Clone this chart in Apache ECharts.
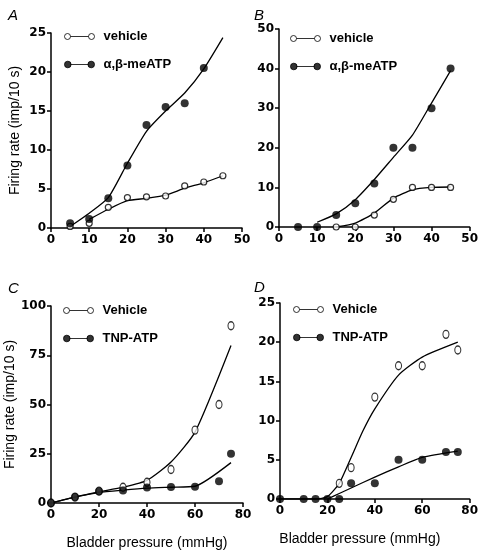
<!DOCTYPE html>
<html>
<head>
<meta charset="utf-8">
<script src="https://cdn.jsdelivr.net/npm/echarts@6/dist/echarts.min.js"></script>
<style>
html,body{margin:0;padding:0;background:#fff;}
#chart{width:481px;height:557px;}
</style>
</head>
<body>
<div id="chart"></div>
<script>
// ---------- Panel A ----------
const aX = [5, 10, 15, 20, 25, 30, 35, 40, 45];
const aVehicle = [0.2, 0.6, 2.65, 3.9, 4.0, 4.1, 5.4, 5.9, 6.7];
const aMeATPX = [5, 10, 15, 20, 25, 30, 35, 40];
const aMeATP = [0.6, 1.15, 3.8, 8.0, 13.2, 15.5, 16.0, 20.5];
const aVehicleFitX = [10, 15, 20, 25, 30, 35, 40, 45];
const aVehicleFit = [1.1, 2.4, 3.5, 3.8, 4.2, 5.1, 5.8, 6.7];
const aMeATPFitX = [5, 10, 15, 20, 25, 30, 35, 40, 45];
const aMeATPFit = [0.2, 1.9, 3.9, 8.3, 12.4, 15.0, 17.3, 20.4, 24.4];

// ---------- Panel B ----------
const bVehicleX = [15, 20, 25, 30, 35, 40, 45];
const bVehicle = [0, 0, 3, 7, 10, 10, 10];
const bMeATPX = [5, 10, 15, 20, 25, 30, 35, 40, 45];
const bMeATP = [0, 0, 3, 6, 11, 20, 20, 30, 40];
const bVehicleFitX = [15, 20, 25, 30, 35, 40, 45];
const bVehicleFit = [0, 1.0, 3.5, 7.3, 9.4, 10, 10.1];
const bMeATPFitX = [10, 15, 20, 25, 30, 35, 40, 45];
const bMeATPFit = [1.2, 3.3, 6.9, 12.0, 17.6, 23.2, 31.3, 39.5];

// ---------- Panel C ----------
const cX = [0, 10, 20, 30, 40, 50, 60, 70, 75];
const cVehicle = [0, 3, 6, 8, 10.5, 17, 37, 50, 90];
const cTNP = [0, 3, 6, 6.3, 7.9, 8.1, 8.2, 11, 25];
const cVehicleFitX = [0, 10, 20, 30, 40, 50, 60, 75];
const cVehicleFit = [0, 3, 5.6, 8, 11.5, 20.8, 36, 80];
const cTNPFitX = [0, 10, 20, 30, 40, 50, 60, 75];
const cTNPFit = [0, 3, 5.3, 6.5, 7.5, 8, 8.5, 20.5];

// ---------- Panel D ----------
const dVehicleX = [25, 30, 40, 50, 60, 70, 75];
const dVehicle = [2, 4, 13, 17, 17, 21, 19];
const dTNPX = [0, 10, 15, 20, 25, 30, 40, 50, 60, 70, 75];
const dTNP = [0, 0, 0, 0, 0, 2, 2, 5, 5, 6, 6];
const dVehicleFitX = [0, 15, 20, 25, 30, 35, 40, 50, 60, 75];
const dVehicleFit = [0, 0, 0.3, 2.0, 5.3, 8.7, 11.5, 15.8, 18.1, 20];
const dTNPFitX = [20, 25, 30, 40, 50, 60, 75];
const dTNPFit = [0, 0.7, 1.4, 2.8, 4.1, 5.3, 6.1];

// ---------- Labels ----------
const panelLetters = ['A', 'B', 'C', 'D'];
const yName = 'Firing rate (imp/10 s)';
const xName = 'Bladder pressure (mmHg)';
const legendAB = ['vehicle', 'α,β-meATP'];
const legendCD = ['Vehicle', 'TNP-ATP'];

const zip = (xs, ys) => xs.map((x, i) => [x, ys[i]]);

const tickFont = {color: '#000', fontFamily: 'DejaVu Sans', fontWeight: 'bold', fontSize: 12};
const nameFont = {color: '#000', fontFamily: 'Liberation Sans', fontWeight: 'normal', fontSize: 14};

function xAxis(idx, max, interval, showName, namePad) {
  return {
    type: 'value', gridIndex: idx, min: 0, max: max, interval: interval,
    axisLine: {show: true, onZero: false, lineStyle: {color: '#000', width: 1.5}},
    axisTick: {show: true, length: 4, lineStyle: {color: '#000', width: 1.5}},
    axisLabel: Object.assign({margin: 6}, tickFont),
    splitLine: {show: false},
    name: showName ? xName : '',
    nameLocation: 'middle', nameGap: 33,
    nameTextStyle: Object.assign({padding: namePad || [0, 0, 0, 0]}, nameFont)
  };
}
function yAxis(idx, max, interval, showName) {
  return {
    type: 'value', gridIndex: idx, min: 0, max: max, interval: interval,
    axisLine: {show: true, onZero: false, lineStyle: {color: '#000', width: 1.5}},
    axisTick: {show: true, length: 4, lineStyle: {color: '#000', width: 1.5}},
    axisLabel: Object.assign({margin: 5}, tickFont),
    splitLine: {show: false},
    name: showName ? yName : '',
    nameLocation: 'middle', nameGap: 29, nameRotate: 90,
    nameTextStyle: nameFont
  };
}

const openStyle = {color: '#fff', borderColor: '#000', borderWidth: 1.2};
const fillStyle = {color: '#000'};
const lineStyle = {color: '#000', width: 1.3};

function scatter(name, idx, data, open, size) {
  return {
    name: name, type: 'scatter', xAxisIndex: idx, yAxisIndex: idx,
    data: data, symbol: 'circle', symbolSize: size,
    itemStyle: open ? openStyle : fillStyle, z: open ? 3 : 4,
    emphasis: {disabled: true}
  };
}
function fit(name, idx, data) {
  return {
    name: name, type: 'line', xAxisIndex: idx, yAxisIndex: idx,
    data: data, symbol: 'none', showSymbol: false, smooth: 0.2,
    lineStyle: lineStyle, z: 2, emphasis: {disabled: true}
  };
}

const openIcon = 'path://M1,4 a3,3 0 1,0 6,0 a3,3 0 1,0 -6,0 M7,4 L25,4 M25,4 a3,3 0 1,0 6,0 a3,3 0 1,0 -6,0 M0,0 M32,8';
const fillIcon = 'path://M1,4 a3.3,3.3 0 1,0 6.6,0 a3.3,3.3 0 1,0 -6.6,0 M7,4 L25,4 M24.4,4 a3.3,3.3 0 1,0 6.6,0 a3.3,3.3 0 1,0 -6.6,0 M0,0 M32,8';

function legend(names, left, top) {
  return {
    orient: 'vertical', left: left, top: top,
    itemWidth: 32, itemHeight: 8, itemGap: 15,
    selectedMode: false,
    textStyle: {color: '#000', fontFamily: 'Liberation Sans', fontWeight: 'bold', fontSize: 13, padding: [0, 0, 0, 3]},
    data: [
      {name: names[0], icon: openIcon, itemStyle: {color: '#fff', borderColor: '#000', borderWidth: 1}},
      {name: names[1], icon: fillIcon, itemStyle: {color: '#000', borderColor: '#000', borderWidth: 1}}
    ]
  };
}

const chart = echarts.init(document.getElementById('chart'), null, {renderer: 'canvas'});
chart.setOption({
  animation: false,
  backgroundColor: '#fff',
  title: [
    {text: panelLetters[0], left: 3, top: 3},
    {text: panelLetters[1], left: 249, top: 3},
    {text: panelLetters[2], left: 3, top: 276},
    {text: panelLetters[3], left: 249, top: 275}
  ].map(t => Object.assign(t, {textStyle: {fontFamily: 'Liberation Sans', fontStyle: 'italic', fontWeight: 'normal', fontSize: 15, color: '#000'}})),
  grid: [
    {left: 51, top: 33, width: 191, height: 195},
    {left: 279, top: 29, width: 192, height: 198},
    {left: 51, top: 306, width: 192, height: 197},
    {left: 280, top: 303, width: 190, height: 196}
  ],
  xAxis: [
    xAxis(0, 50, 10, false),
    xAxis(1, 50, 10, false),
    xAxis(2, 80, 20, true),
    xAxis(3, 80, 20, true, [0, 30, 0, 0])
  ],
  yAxis: [
    yAxis(0, 25, 5, true),
    yAxis(1, 50, 10, false),
    yAxis(2, 100, 25, true),
    yAxis(3, 25, 5, false)
  ],
  legend: [
    legend(legendAB, 58, 25),
    legend(legendAB, 284, 27),
    legend(legendCD, 57, 299),
    legend(legendCD, 287, 298)
  ],
  series: [
    fit('A vehicle fit', 0, zip(aVehicleFitX, aVehicleFit)),
    fit('A meATP fit', 0, zip(aMeATPFitX, aMeATPFit)),
    scatter(legendAB[0], 0, zip(aX, aVehicle), true, 6),
    scatter(legendAB[1], 0, zip(aMeATPX, aMeATP), false, 8),

    fit('B vehicle fit', 1, zip(bVehicleFitX, bVehicleFit)),
    fit('B meATP fit', 1, zip(bMeATPFitX, bMeATPFit)),
    scatter(legendAB[0], 1, zip(bVehicleX, bVehicle), true, 6),
    scatter(legendAB[1], 1, zip(bMeATPX, bMeATP), false, 8),

    fit('C vehicle fit', 2, zip(cVehicleFitX, cVehicleFit)),
    fit('C TNP fit', 2, zip(cTNPFitX, cTNPFit)),
    scatter(legendCD[0], 2, zip(cX, cVehicle), true, [6, 8]),
    scatter(legendCD[1], 2, zip(cX, cTNP), false, 8),

    fit('D vehicle fit', 3, zip(dVehicleFitX, dVehicleFit)),
    fit('D TNP fit', 3, zip(dTNPFitX, dTNPFit)),
    scatter(legendCD[0], 3, zip(dVehicleX, dVehicle), true, [6, 8]),
    scatter(legendCD[1], 3, zip(dTNPX, dTNP), false, 8)
  ]
});
</script>
</body>
</html>
